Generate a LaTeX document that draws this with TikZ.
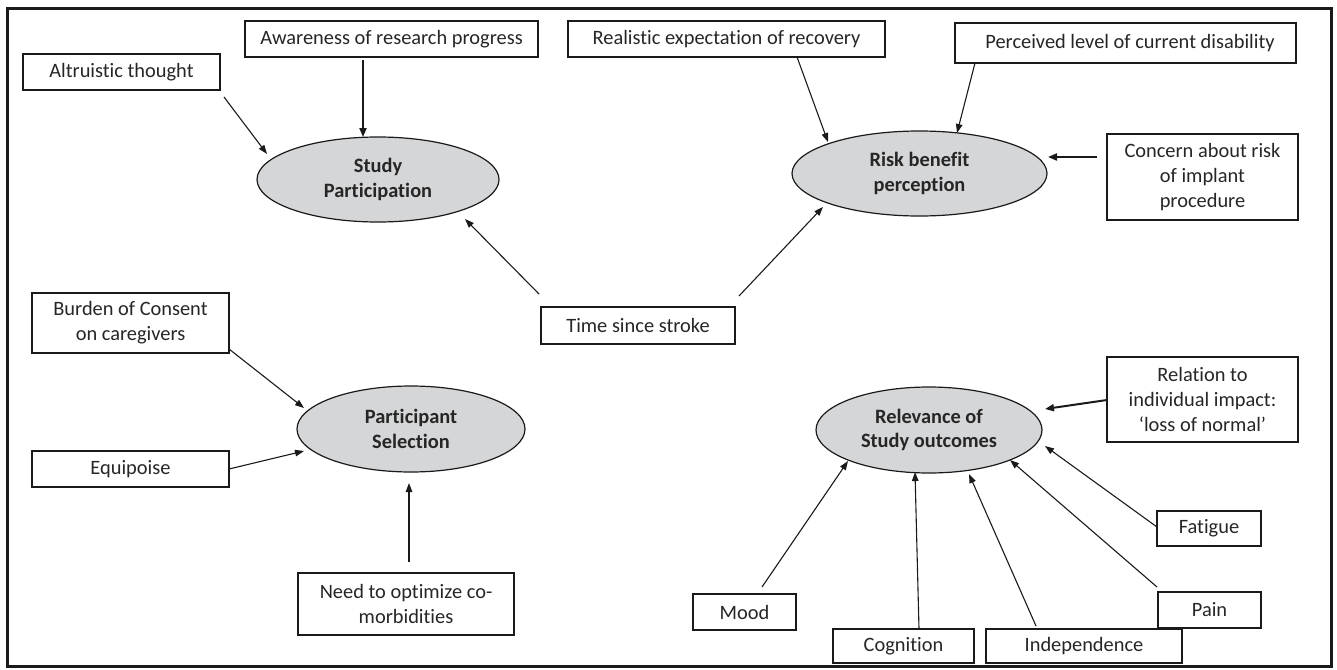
\documentclass[tikz,border=0pt]{standalone}
\usepackage{fontspec}
\setmainfont{Carlito}[Ligatures=NoCommon]
\usetikzlibrary{shapes.geometric,arrows.meta,calc}
\definecolor{txt}{HTML}{262626}
\definecolor{ln}{HTML}{1A1A1A}
\definecolor{efill}{HTML}{D5D6D8}
\tikzset{
  box/.style={draw=ln,line width=1.3pt,fill=white,inner sep=0pt,align=center,text=txt,
    font=\fontsize{20.4}{24.8}\selectfont},
  oval/.style={ellipse,draw=ln,line width=1.2pt,fill=efill,inner sep=0pt,align=center,text=txt,
    font=\fontsize{20.4}{24.8}\selectfont\bfseries},
  arr/.style={draw=ln,line width=1.1pt,-{Triangle[length=9pt,width=6.5pt]}},
  arrthick/.style={draw=ln,line width=2pt,-{Triangle[length=9pt,width=7pt]}},
}
\begin{document}
\begin{tikzpicture}[x=1pt,y=-1pt]
\useasboundingbox (0,0) rectangle (1337,669);
\draw[ln,line width=3pt] (7,8.5) rectangle (1331,666);

% boxes
\node[box,minimum width=197pt,minimum height=36pt] (alt) at (121.5,72) {Altruistic thought};
\node[box,minimum width=293pt,minimum height=36pt] (aw) at (391.5,39) {Awareness of research progress};
\node[box,minimum width=317pt,minimum height=36pt] (re) at (726.5,39) {Realistic expectation of recovery};
\node[box,minimum width=341pt,minimum height=40pt] (pe) at (1125.5,43) {\hspace*{9pt}Perceived level of current disability};
\node[box,minimum width=191pt,minimum height=86pt] (cc) at (1202.5,177) {Concern about risk\\of implant\\procedure};
\node[box,minimum width=194pt,minimum height=37pt] (ts) at (638,325.5) {Time since stroke};
\node[box,minimum width=197pt,minimum height=60pt] (bu) at (130.5,323) {Burden of Consent\\on caregivers};
\node[box,minimum width=197pt,minimum height=36pt] (eq) at (130.5,469) {Equipoise};
\node[box,minimum width=216pt,minimum height=62pt] (nd) at (406,604) {Need to optimize co-\\morbidities};
\node[box,minimum width=191pt,minimum height=85pt] (rel) at (1202.5,399.5) {Relation to\\individual impact:\\‘loss of normal’};
\node[box,minimum width=104pt,minimum height=35pt] (fa) at (1209,528.5) {Fatigue};
\node[box,minimum width=103pt,minimum height=36pt] (pa) at (1209.5,610) {Pain};
\node[box,minimum width=103pt,minimum height=36pt] (mo) at (744.5,612) {Mood};
\node[box,minimum width=141pt,minimum height=34pt] (co) at (903.5,646) {Cognition};
\node[box,minimum width=196pt,minimum height=34pt] (in) at (1084,646) {Independence};

% ellipses
\node[oval,minimum width=242pt,minimum height=85pt] (sp) at (378,179.5) {Study\\Participation};
\node[oval,minimum width=255pt,minimum height=85pt] (rb) at (919.5,173.5) {Risk benefit\\perception};
\node[oval,minimum width=228pt,minimum height=86pt] (ps) at (411,429) {Participant\\Selection};
\node[oval,minimum width=226pt,minimum height=86pt] (ro) at (929,430) {Relevance of\\Study outcomes};

% connectors
\draw[arr] ($(alt.center)+(102.5,25)$) -- ($(sp.center)+(-111,-25.5)$);
\draw[arrthick] ($(aw.center)+(-28.5,21)$) -- ($(sp.center)+(-15,-42.5)$);
\draw[arr] ($(re.center)+(70.5,18)$) -- ($(rb.center)+(-91.5,-31.5)$);
\draw[arr] ($(pe.center)+(-150.5,20)$) -- ($(rb.center)+(37.5,-40.5)$);
\draw[arrthick] ($(cc.center)+(-105.5,-20)$) -- ($(rb.center)+(128.5,-16.5)$);
\draw[arr] ($(ts.center)+(-99,-31.5)$) -- ($(sp.center)+(87,39.5)$);
\draw[arr] ($(ts.center)+(101,-29.5)$) -- ($(rb.center)+(-96.5,33.5)$);
\draw[arr] ($(bu.center)+(98.5,26)$) -- ($(ps.center)+(-107,-21)$);
\draw[arr] ($(eq.center)+(98.5,0)$) -- ($(ps.center)+(-107,22)$);
\draw[arr] ($(nd.center)+(3,-42)$) -- ($(ps.center)+(-2,54)$);
\draw[arrthick] ($(rel.center)+(-95.5,0.5)$) -- ($(ro.center)+(116,-21)$);
\draw[arr] ($(fa.center)+(-52,-1.5)$) -- ($(ro.center)+(116,16)$);
\draw[arr] ($(pa.center)+(-52.5,-23)$) -- ($(ro.center)+(81,30)$);
\draw[arr] ($(in.center)+(-48,-20)$) -- ($(ro.center)+(40,44)$);
\draw[arr] ($(co.center)+(15.5,-17)$) -- ($(ro.center)+(-14,42)$);
\draw[arr] ($(mo.center)+(17.5,-25)$) -- ($(ro.center)+(-81,31)$);
\end{tikzpicture}
\end{document}
